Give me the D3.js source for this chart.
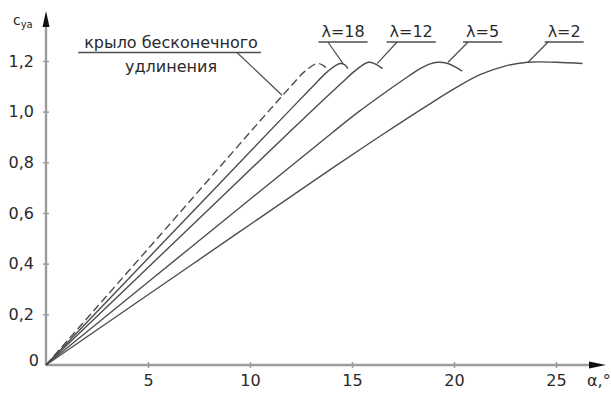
<!DOCTYPE html>
<html>
<head>
<meta charset="utf-8">
<script src="https://cdn.jsdelivr.net/npm/d3@7"></script>
<style>
  html, body { margin: 0; padding: 0; background: #fff; }
  svg { display: block; }
  svg text { font-family: 'DejaVu Sans', sans-serif !important; fill: #2a2a2a; }
</style>
</head>
<body>
<svg id="chart" width="611" height="393"></svg>
<script>
// ---- data (alpha in degrees, c_ya) ----
const xTicks = [5, 10, 15, 20, 25];
const yTicks = [0, 0.2, 0.4, 0.6, 0.8, 1.0, 1.2];

const infiniteWing = [[0,0],[6,0.55],[11,1.01],[12,1.10],[12.7,1.16],[13.3,1.19],[13.6,1.182],[13.8,1.165]];
const lambda18 = [[0,0],[6,0.505],[12,1.01],[13,1.093],[13.8,1.158],[14.4,1.19],[14.65,1.185],[14.8,1.17]];
const lambda12 = [[0,0],[6,0.462],[12,0.925],[13.5,1.039],[14.5,1.114],[15.1,1.158],[15.5,1.183],[15.8,1.195],[16.1,1.19],[16.5,1.17]];
const lambda5  = [[0,0],[7,0.458],[14,0.915],[15.3,0.998],[16.4,1.063],[17.5,1.125],[18.3,1.168],[18.8,1.188],[19.2,1.195],[19.7,1.19],[20.1,1.175],[20.4,1.16]];
const lambda2  = [[0,0],[7,0.388],[14,0.775],[16.5,0.91],[18.8,1.03],[20,1.09],[21.3,1.147],[22.5,1.18],[23.6,1.195],[25,1.195],[26.3,1.19]];

const seriesNames = ["λ=18", "λ=12", "λ=5", "λ=2"];
const seriesData = [lambda18, lambda12, lambda5, lambda2];
const infiniteLabel = ["крыло бесконечного", "удлинения"];

// annotation anchors in data units: [label centre α, leader start α, leader end α, leader end c]
const leaderAnchors = [[14.56, 13.82, 14.56, 1.19], [17.9, 17.21, 16.23, 1.19], [21.4, 20.69, 19.71, 1.195], [25.4, 24.61, 23.63, 1.195]];

// ---- layout ----
const svg = d3.select("#chart");
const x = d3.scaleLinear().domain([0, 25]).range([46, 556]);
const y = d3.scaleLinear().domain([0, 1.2]).range([365, 61]);
const axisColor = "#9c9c9c";
const lineColor = "#4d4d4d";
const fs = 16;

const line = d3.line().x(d => x(d[0])).y(d => y(d[1])).curve(d3.curveCatmullRom.alpha(0.5));

// axes lines with arrows
svg.append("line").attr("x1", x(0)).attr("x2", 592).attr("y1", y(0)).attr("y2", y(0))
  .attr("stroke", axisColor).attr("stroke-width", 2.4);
svg.append("path").attr("d", `M589,${y(0)-3.5} L606,${y(0)} L589,${y(0)+3.5} Z`).attr("fill", "#111");
svg.append("line").attr("x1", x(0)).attr("x2", x(0)).attr("y1", y(0)).attr("y2", 24)
  .attr("stroke", axisColor).attr("stroke-width", 2.4);
svg.append("path").attr("d", `M${x(0)-3.5},27 L${x(0)},11 L${x(0)+3.5},27 Z`).attr("fill", "#111");

const fmt = v => v === 0 ? "0" : d3.format(".1f")(v).replace(".", ",");

const gx = svg.append("g").attr("transform", `translate(0,${y(0)})`)
  .call(d3.axisBottom(x).tickValues(xTicks).tickSize(3).tickFormat(d3.format("d")));
gx.attr("font-family", null);
gx.select(".domain").remove();
gx.selectAll(".tick line").attr("y1", -3).attr("y2", 3).attr("stroke", axisColor).attr("stroke-width", 1.5);
gx.selectAll(".tick text").attr("y", 21).attr("dy", 0).attr("font-size", fs).attr("fill", "#2a2a2a");

const gy = svg.append("g").attr("transform", `translate(${x(0)},0)`)
  .call(d3.axisLeft(y).tickValues(yTicks).tickSize(3).tickPadding(9).tickFormat(fmt));
gy.attr("font-family", null);
gy.select(".domain").remove();
gy.selectAll(".tick line").attr("x1", 3).attr("x2", -3).attr("stroke", axisColor).attr("stroke-width", 1.5)
  .filter(d => d === 0).remove();
gy.selectAll(".tick text").attr("font-size", fs).attr("fill", "#2a2a2a")
  .filter(d => d === 0).attr("x", -7).attr("dy", "0.05em");

// axis titles
const yt = svg.append("text").attr("x", 13).attr("y", 25).attr("font-size", 14);
yt.append("tspan").text("c");
yt.append("tspan").attr("font-size", 10).attr("dy", 3).text("уа");
svg.append("text").attr("x", 587).attr("y", 386).attr("font-size", fs).text("α,°");

// curves
svg.append("path").datum(infiniteWing).attr("d", line).attr("fill", "none")
  .attr("stroke", lineColor).attr("stroke-width", 1.4).attr("stroke-dasharray", "8,4");
svg.selectAll(".series").data(seriesData).join("path").attr("class", "series")
  .attr("d", line).attr("fill", "none").attr("stroke", lineColor).attr("stroke-width", 1.4);

// λ labels with underline and leader
const yLabelBase = 37, yUnder = 42;
seriesNames.forEach((name, i) => {
  const a = leaderAnchors[i];
  const t = svg.append("text").attr("x", x(a[0])).attr("y", yLabelBase).attr("text-anchor", "middle")
    .attr("font-size", fs).text(name);
  const w = t.node().getComputedTextLength();
  svg.append("line").attr("x1", x(a[0]) - w / 2 - 3).attr("x2", x(a[0]) + w / 2 + 3)
    .attr("y1", yUnder).attr("y2", yUnder).attr("stroke", lineColor).attr("stroke-width", 1.3);
  svg.append("line").attr("x1", x(a[1])).attr("y1", yUnder).attr("x2", x(a[2])).attr("y2", y(a[3]))
    .attr("stroke", lineColor).attr("stroke-width", 1.2);
});

// infinite-wing label
const cx = x(6.13);
const t1 = svg.append("text").attr("x", cx).attr("y", 48).attr("text-anchor", "middle").attr("font-size", fs).text(infiniteLabel[0]);
svg.append("text").attr("x", cx).attr("y", 72).attr("text-anchor", "middle").attr("font-size", fs).text(infiniteLabel[1]);
const w1 = t1.node().getComputedTextLength();
svg.append("line").attr("x1", cx - w1 / 2 - 6).attr("x2", cx + w1 / 2 + 3).attr("y1", 52.5).attr("y2", 52.5)
  .attr("stroke", lineColor).attr("stroke-width", 1.3);
svg.append("line").attr("x1", x(9.36)).attr("y1", 52.5).attr("x2", x(11.57)).attr("y2", y(1.065))
  .attr("stroke", lineColor).attr("stroke-width", 1.2);
</script>
</body>
</html>
